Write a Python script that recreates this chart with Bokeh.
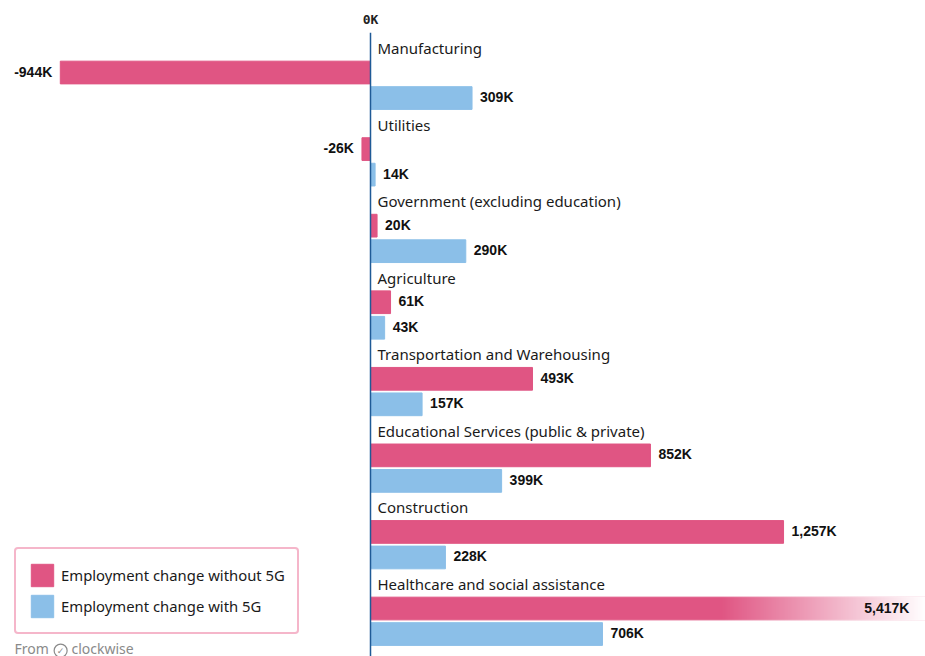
import numpy as np
from bokeh.plotting import figure
from bokeh.models import Range1d, FixedTicker, Legend, LegendItem, Label, ColumnDataSource
from bokeh.core.properties import value
from bokeh.embed import file_html
from bokeh.resources import INLINE

categories = ["Manufacturing", "Utilities", "Government (excluding education)", "Agriculture",
              "Transportation and Warehousing", "Educational Services (public & private)",
              "Construction", "Healthcare and social assistance"]
without_5g = [-944, -26, 20, 61, 493, 852, 1257, 5417]
with_5g = [309, 14, 290, 43, 157, 399, 228, 706]
without_labels = ["-944K", "-26K", "20K", "61K", "493K", "852K", "1,257K", "5,417K"]
with_labels = ["309K", "14K", "290K", "43K", "157K", "399K", "228K", "706K"]
series_names = ["Employment change without 5G", "Employment change with 5G"]

PINK = "#E05583"
BLUE = "#8BBFE8"
AXIS = "#1F5A96"
LABEL_FONT = "Noto Sans"
VALUE_FONT = "Liberation Sans"

W, H = 925, 656
p = figure(width=W, height=H, output_backend="svg", toolbar_location=None,
           x_range=Range1d(-1126, 1689), y_range=Range1d(23.88, -0.568),
           x_axis_location="above", min_border_left=0, min_border_right=0,
           min_border_bottom=0, min_border_top=32)
p.outline_line_color = None
p.grid.visible = False

xa = p.xaxis[0]
xa.ticker = FixedTicker(ticks=[0])
xa.major_label_overrides = {0: "0K"}
xa.major_tick_line_color = None
xa.minor_tick_line_color = None
xa.major_tick_out = 0
xa.major_tick_in = 0
xa.axis_line_color = None
xa.major_label_standoff = 6
xa.major_label_text_font = "DejaVu Sans Mono"
xa.major_label_text_font_style = "bold"
xa.major_label_text_font_size = "13px"
xa.major_label_text_color = "#222222"

ya = p.yaxis[0]
ya.fixed_location = 0
ya.ticker = FixedTicker(ticks=[])
ya.axis_line_color = AXIS
ya.axis_line_width = 1.5
ya.major_tick_line_color = None
ya.minor_tick_line_color = None

rows = np.arange(len(categories)) * 3
src = ColumnDataSource(dict(y0=rows, y1=rows + 1, y2=rows + 2, cat=categories,
                            a=without_5g, b=with_5g, la=without_labels, lb=with_labels))

r1 = p.hbar(y="y1", left=0, right="a", height=0.89, color=PINK, source=src)
r2 = p.hbar(y="y2", left=0, right="b", height=0.89, color=BLUE, source=src)

# White fade over the truncated healthcare bar
steps = 256
fade = np.zeros((1, steps), dtype=np.uint32)
view = fade.view(np.uint8).reshape((1, steps, 4))
view[0, :, 0:3] = 255
view[0, :, 3] = np.linspace(0, 255, steps).astype(np.uint8)
p.image_rgba(image=[fade], x=[1065], y=[rows[-1] + 1], dw=[625], dh=[0.96], anchor="center_left")

p.text(x=0, y="y0", text="cat", source=src, x_offset=7, y_offset=1, text_baseline="middle",
       text_font=value(LABEL_FONT), text_font_size="15px", text_color="#1a1a1a")

common = dict(text_font=value(VALUE_FONT), text_font_style="bold", text_font_size="14px",
              text_color="#111111", text_baseline="middle")
neg = [i for i, v in enumerate(without_5g) if v < 0]
pos = [i for i, v in enumerate(without_5g) if 0 <= v < 2000]
p.text(x=[without_5g[i] for i in neg], y=[rows[i] + 1 for i in neg],
       text=[without_labels[i] for i in neg], x_offset=-8, y_offset=-1, text_align="right", **common)
p.text(x=[without_5g[i] for i in pos], y=[rows[i] + 1 for i in pos],
       text=[without_labels[i] for i in pos], x_offset=8, y_offset=-1, text_align="left", **common)
p.text(x=[1640], y=[rows[-1] + 1], text=[without_labels[-1]], y_offset=-1, text_align="right", **common)
p.text(x="b", y="y2", text="lb", source=src, x_offset=8, y_offset=-1, text_align="left", **common)

legend = Legend(items=[LegendItem(label=series_names[0], renderers=[r1]),
                       LegendItem(label=series_names[1], renderers=[r2])],
                location=(14, 22), orientation="vertical",
                glyph_width=28, glyph_height=28, label_standoff=5, spacing=3,
                padding=12, margin=0, label_text_font=LABEL_FONT, label_text_font_size="14.85px",
                label_text_color="#1a1a1a", border_line_color="#EC6D95", border_line_width=2,
                background_fill_alpha=1)
if "border_radius" in Legend.properties():
    legend.border_radius = 4
p.add_layout(legend, "center")

# Source line
GREY = "#8a8a8a"
p.add_layout(Label(x=14, y=-1, x_units="screen", y_units="screen", text="From",
                   text_font=LABEL_FONT, text_font_size="14px", text_color=GREY))
p.add_layout(Label(x=71, y=-1, x_units="screen", y_units="screen", text="clockwise",
                   text_font=LABEL_FONT, text_font_size="14px", text_color=GREY))
icon_x, icon_y = [-943], [23.65]
p.scatter(x=icon_x, y=icon_y, marker="circle", size=13, fill_color=None, line_color=GREY, line_width=1.2)
p.text(x=icon_x, y=icon_y, text=["✓"], text_align="center", text_baseline="middle",
       text_font=value("DejaVu Sans"), text_font_size="9px", text_color=GREY)

open("out.html", "w").write(file_html(p, INLINE))
